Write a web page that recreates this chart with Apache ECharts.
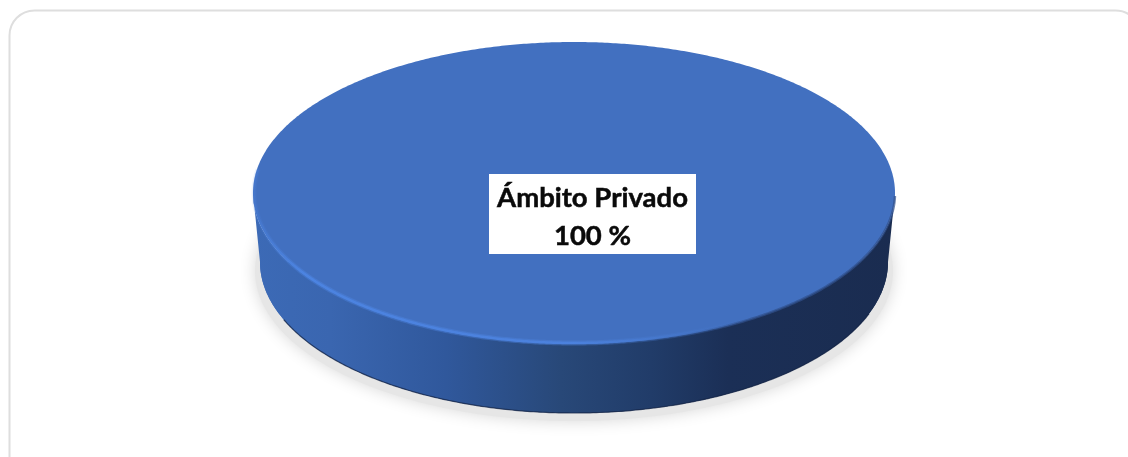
<!DOCTYPE html>
<html>
<head>
<meta charset="utf-8">
<style>html,body{margin:0;padding:0;background:#fff}#c{width:1128px;height:457px}</style>
<script src="https://cdn.jsdelivr.net/npm/echarts@6/dist/echarts.min.js"></script>
</head>
<body>
<div id="c"></div>
<script>
const categories = ['Ámbito Privado'];
const seriesValues = [100];
const total = seriesValues.reduce((a, b) => a + b, 0);

const TOP = {cx: 574, cy: 193, rx: 321, ry: 151};
const BOT = {cx: 574, cy: 262, rx: 314, ry: 151};
const SHD = {cx: 574, cy: 271, rx: 319, ry: 150};
const RIM = {cx: 574, cy: 193, rx: 320, ry: 150};

function arcPts(e, a0, a1, n) {
  const p = [];
  for (let i = 0; i <= n; i++) {
    const a = a0 + (a1 - a0) * i / n;
    p.push([e.cx + e.rx * Math.cos(a), e.cy + e.ry * Math.sin(a)]);
  }
  return p;
}
function hGrad(stops) {
  return {type: 'linear', x: 253, y: 0, x2: 895, y2: 0, global: true,
    colorStops: stops.map(s => ({offset: s[0], color: s[1]}))};
}
const sideStops = [[0, '#3c6ab6'], [0.12, '#3a66b0'], [0.3, '#30589c'], [0.48, '#284878'],
  [0.62, '#213c69'], [0.74, '#1b2f56'], [1, '#1a2c50']];
const rimStops = [[0, 'rgba(76,132,226,0.2)'], [0.08, 'rgba(76,132,226,0.95)'], [0.5, 'rgba(76,130,222,0.95)'],
  [0.68, 'rgba(70,120,205,0.5)'], [0.78, 'rgba(66,112,192,0)'], [1, 'rgba(66,112,192,0)']];
const edgeStops = [[0, 'rgba(48,80,140,0)'], [0.6, 'rgba(48,80,140,0)'], [0.78, 'rgba(48,80,140,0.7)'], [1, 'rgba(48,80,140,0.7)']];

function renderItem(params, api) {
  const value = api.value(0);
  const sweep = value / total * Math.PI * 2;
  const start = -Math.PI / 2;
  const name = categories[params.dataIndex];
  const topPts = arcPts(TOP, start, start + sweep, 720);
  const sidePts = arcPts(TOP, 0, Math.PI, 240).concat(arcPts(BOT, Math.PI, 0, 240));
  const children = [
    {type: 'polygon', shape: {points: arcPts(SHD, 0, Math.PI * 2, 360)},
      style: {fill: '#e6e6e6', shadowBlur: 16, shadowColor: '#d8d8d8'}},
    {type: 'polygon', shape: {points: sidePts}, style: {fill: hGrad(sideStops)}},
    {type: 'polygon', shape: {points: arcPts(BOT, 0, Math.PI, 240)}, style: {fill: hGrad(sideStops)}},
    {type: 'polyline', shape: {points: arcPts(BOT, 0.35, 2.75, 240)},
      style: {fill: null, stroke: 'rgba(20,36,70,0.75)', lineWidth: 1.2}},
    {type: 'polygon', shape: {points: topPts}, style: {fill: '#4270c0'}},
    {type: 'polyline', shape: {points: arcPts(TOP, 0.02, 1.6, 240)},
      style: {fill: null, stroke: hGrad(edgeStops), lineWidth: 2.5}},
    {type: 'polyline', shape: {points: arcPts(RIM, 0.75, 3.3, 360)},
      style: {fill: null, stroke: hGrad(rimStops), lineWidth: 5, opacity: 0.45}},
    {type: 'polyline', shape: {points: arcPts(RIM, 0.75, 3.3, 360)},
      style: {fill: null, stroke: hGrad(rimStops), lineWidth: 2.5}},
    {type: 'rect', shape: {x: 489, y: 174, width: 207, height: 80}, style: {fill: '#ffffff'}},
    {type: 'text', x: 592.5, y: 217, style: {
      text: name + '\n' + value + ' %',
      fill: '#0a0a0a', stroke: '#0a0a0a', lineWidth: 0.5,
      font: 'bold 27.5px Lato', align: 'center', verticalAlign: 'middle', lineHeight: 38}}
  ];
  return {type: 'group', children};
}

const chart = echarts.init(document.getElementById('c'), null, {renderer: 'canvas'});
chart.setOption({
  animation: false,
  backgroundColor: '#ffffff',
  graphic: [{type: 'rect', silent: true, z: -1,
    shape: {x: 9.5, y: 10.5, width: 1131, height: 480, r: 25},
    style: {fill: '#ffffff', stroke: '#dedede', lineWidth: 2}}],
  series: [{
    type: 'custom',
    coordinateSystem: 'none',
    renderItem,
    data: categories.map((n, i) => ({name: n, value: [seriesValues[i]]}))
  }]
});
</script>
</body>
</html>
